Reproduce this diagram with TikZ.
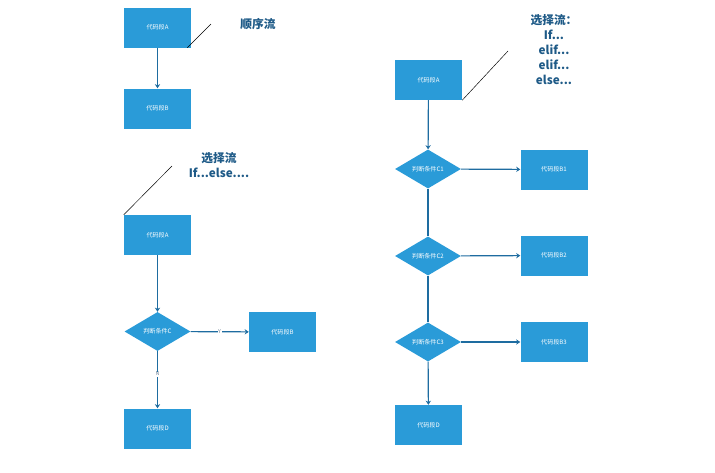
\documentclass[tikz,border=0pt]{standalone}
\usepackage{fontspec}
\setmainfont{Noto Sans CJK SC}
\usetikzlibrary{arrows.meta,shapes.geometric}
\definecolor{blkblue}{RGB}{42,155,216}
\definecolor{lineblue}{RGB}{30,108,160}
\definecolor{titleblue}{RGB}{30,90,135}
\definecolor{lblgray}{RGB}{110,130,150}

\begin{document}
\begin{tikzpicture}[x=0.03cm,y=-0.03cm,
    blk/.style={rectangle,fill=blkblue,text=white,inner sep=0pt,
        minimum width=2.01cm,minimum height=1.2cm,font=\fontsize{5.2}{6}\selectfont},
    cond/.style={diamond,fill=blkblue,text=white,inner sep=0pt,
        minimum width=1.98cm,minimum height=1.17cm,font=\fontsize{5.2}{6}\selectfont},
    arr/.style={lineblue,line width=1pt,-{Stealth[length=3.5pt,width=4.5pt]}},
    flow/.style={lineblue,line width=1pt},
    lead/.style={black,thin},
    title/.style={text=titleblue,font=\fontsize{10}{12.8}\selectfont\bfseries,align=center,inner sep=0pt},
    yn/.style={text=lblgray,font=\fontsize{4.5}{5}\selectfont,fill=white,inner sep=0.5pt}]
  \useasboundingbox (0,0) rectangle (715,473);

  %% sequential flow
  \node[blk] (sa) at (157.5,27.5) {代码段A};
  \node[blk] (sb) at (157.5,108.5) {代码段B};
  \node[title] (st) at (258,24) {顺序流};
  \coordinate (sl) at (211,24);
  \draw[arr] (sa) -- (sb);
  \draw[lead] (sa.south east) ++(-4,0) coordinate (sac) -- (sl);

  %% if ... else
  \node[title] (it) at (219,165.5) {选择流\\If...else....};
  \coordinate (il) at (172,166);
  \node[blk] (ia) at (157.5,235) {代码段A};
  \node[cond] (ic) at (157.5,331.5) {判断条件C};
  \node[blk] (ib) at (282.5,332) {代码段B};
  \node[blk] (id) at (157.5,428.5) {代码段D};
  \draw[lead] (ia.north west) -- (il);
  \draw[arr] (ia) -- (ic);
  \draw[arr] (ic) -- node[yn] {Y} (ib);
  \draw[arr] (ic) -- node[yn,pos=0.4] {N} (id);

  %% if ... elif ... else
  \node[title] (et) at (554,50) {选择流：\\If...\\elif...\\elif...\\else...};
  \coordinate (el) at (508,51);
  \node[blk] (ea) at (428.5,80) {代码段A};
  \node[cond] (ec1) at (428,169) {判断条件C1};
  \node[cond] (ec2) at (428,256) {判断条件C2};
  \node[cond] (ec3) at (428,342) {判断条件C3};
  \node[blk] (eb1) at (554,169.5) {代码段B1};
  \node[blk] (eb2) at (554,255.5) {代码段B2};
  \node[blk] (eb3) at (554,342) {代码段B3};
  \node[blk] (ed) at (428.5,425) {代码段D};
  \draw[lead] (ea.south east) -- (el);
  \draw[arr] (ea) -- (ec1);
  \draw[flow] (ec1) -- (ec2);
  \draw[flow] (ec2) -- (ec3);
  \draw[arr] (ec3) -- (ed);
  \draw[arr] (ec1) -- (eb1);
  \draw[arr] (ec2) -- (eb2);
  \draw[arr] (ec3) -- (eb3);
\end{tikzpicture}
\end{document}
